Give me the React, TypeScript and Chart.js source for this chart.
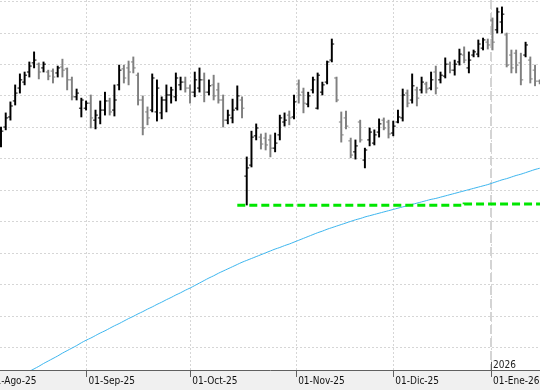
import { useEffect, useRef } from 'react';
import { Chart, registerables } from 'chart.js';

Chart.register(...registerables);

// ---- Data ----
// Daily OHLC bars, index 0 = 06-Ago-25
const highs = [
  27.01, 27.46, 27.81, 28.35, 28.70, 28.76, 29.08, 29.40, 29.05, 29.08,
  28.82, 28.86, 28.95, 29.17, 28.89, 28.60, 28.22, 27.93, 27.84, 28.03,
  27.55, 27.84, 28.12, 27.93, 28.35, 28.98, 28.98, 29.11, 29.24, 28.73,
  28.00, 27.65, 28.70, 28.51, 27.97, 28.35, 28.28, 28.73, 28.60, 28.60,
  28.35, 28.76, 28.89, 28.73, 28.51, 28.66, 28.41, 28.03, 27.55, 27.90,
  28.32, 27.97, 26.06, 26.88, 27.11, 26.79, 26.82, 26.76, 26.82, 27.39,
  27.46, 27.52, 28.03, 28.51, 28.25, 28.12, 28.60, 28.73, 28.44, 29.11,
  29.81, 28.60, 27.49, 27.52, 26.66, 26.60, 27.23, 26.34, 26.98, 26.92,
  27.27, 27.30, 27.23, 27.20, 27.55, 28.22, 28.19, 28.70, 28.28, 28.60,
  28.44, 28.76, 28.95, 28.76, 29.21, 29.08, 29.14, 29.49, 29.56, 29.40,
  29.46, 29.78, 29.84, 29.81, 30.48, 30.80, 30.83, 30.00, 29.46, 29.46,
  29.36, 29.71, 29.24, 28.98, 28.51,
];
const lows = [
  26.38, 26.92, 27.23, 27.71, 28.09, 28.35, 28.60, 28.89, 28.54, 28.76,
  28.51, 28.41, 28.60, 28.60, 28.19, 27.87, 27.87, 27.33, 27.55, 26.98,
  26.95, 27.11, 27.39, 27.39, 27.36, 28.19, 28.41, 28.35, 28.73, 27.71,
  26.76, 27.08, 27.49, 27.20, 27.27, 27.49, 27.77, 27.84, 28.19, 28.12,
  27.77, 27.97, 28.12, 27.81, 28.03, 27.87, 27.77, 27.01, 27.11, 27.14,
  27.55, 27.30, 24.53, 25.74, 26.60, 26.31, 26.28, 26.06, 26.22, 26.60,
  27.04, 27.08, 27.27, 27.77, 27.46, 27.65, 28.09, 27.58, 28.03, 28.38,
  29.08, 27.81, 26.53, 26.95, 26.03, 25.99, 26.53, 25.71, 26.41, 26.44,
  26.69, 26.92, 26.66, 26.73, 27.14, 27.20, 27.65, 27.77, 27.68, 28.09,
  28.09, 28.19, 28.06, 28.41, 28.57, 28.73, 28.66, 28.98, 29.05, 28.73,
  29.24, 29.24, 29.46, 29.49, 29.46, 30.00, 30.00, 28.92, 28.73, 28.73,
  28.35, 29.24, 28.41, 28.32, 28.38,
];
const opens = [
  26.60, 27.01, 27.33, 27.84, 28.25, 28.44, 28.76, 29.05, 29.01, 28.89,
  28.76, 28.79, 28.73, 28.92, 28.86, 28.51, 27.97, 27.61, 27.61, 27.77,
  27.23, 27.30, 27.55, 27.84, 27.55, 28.35, 28.86, 28.89, 29.08, 28.66,
  27.87, 27.49, 27.55, 27.49, 27.46, 27.87, 28.03, 27.97, 28.35, 28.44,
  28.25, 28.12, 28.25, 28.51, 28.12, 28.35, 28.19, 27.87, 27.23, 27.30,
  27.61, 27.87, 25.45, 25.80, 26.73, 26.69, 26.66, 26.60, 26.34, 26.76,
  27.17, 27.39, 27.33, 28.38, 28.12, 27.74, 28.19, 27.61, 28.12, 28.44,
  29.14, 28.57, 27.17, 27.30, 26.57, 26.22, 27.17, 25.96, 26.60, 26.50,
  26.85, 27.23, 27.17, 26.82, 27.17, 27.30, 28.09, 27.87, 28.19, 28.19,
  28.38, 28.25, 28.76, 28.51, 28.63, 29.01, 28.82, 29.08, 29.30, 28.89,
  29.30, 29.33, 29.52, 29.71, 30.41, 30.10, 30.35, 29.94, 29.30, 29.36,
  29.05, 29.30, 29.14, 28.82, 28.47,
];
const closes = [
  26.88, 27.30, 27.68, 28.09, 28.51, 28.66, 28.95, 29.14, 28.76, 29.01,
  28.63, 28.60, 28.89, 28.82, 28.51, 27.97, 28.09, 27.87, 27.77, 27.30,
  27.39, 27.55, 27.84, 27.49, 27.87, 28.82, 28.57, 28.76, 28.89, 27.87,
  26.98, 27.30, 28.57, 28.25, 27.87, 28.03, 28.19, 28.57, 28.44, 28.25,
  28.12, 28.51, 28.51, 28.12, 28.32, 28.00, 27.87, 27.23, 27.39, 27.55,
  28.00, 27.61, 25.71, 26.69, 26.98, 26.47, 26.44, 26.34, 26.50, 27.30,
  27.23, 27.30, 27.81, 28.03, 27.77, 28.00, 28.51, 28.66, 28.35, 29.08,
  29.65, 27.87, 26.76, 27.04, 26.12, 26.41, 26.60, 26.28, 26.85, 26.76,
  27.11, 26.98, 26.79, 27.04, 27.33, 28.03, 27.77, 28.32, 27.93, 28.44,
  28.22, 28.51, 28.25, 28.66, 29.01, 28.82, 29.01, 29.33, 29.14, 29.14,
  29.40, 29.65, 29.78, 29.62, 29.71, 30.67, 30.60, 28.98, 28.89, 28.98,
  28.51, 29.62, 28.54, 28.47, 28.44,
];
// Long moving average (light blue line)
const movingAvg = [
  18.74, 18.83, 18.91, 18.99, 19.07, 19.15, 19.24, 19.32, 19.40, 19.49,
  19.57, 19.65, 19.73, 19.82, 19.90, 19.98, 20.06, 20.15, 20.23, 20.30,
  20.38, 20.46, 20.53, 20.61, 20.69, 20.76, 20.84, 20.92, 20.99, 21.07,
  21.14, 21.22, 21.29, 21.37, 21.44, 21.52, 21.59, 21.67, 21.74, 21.82,
  21.89, 21.97, 22.05, 22.13, 22.21, 22.28, 22.36, 22.43, 22.50, 22.57,
  22.64, 22.71, 22.77, 22.83, 22.89, 22.95, 23.01, 23.07, 23.13, 23.18,
  23.24, 23.29, 23.35, 23.41, 23.47, 23.53, 23.59, 23.65, 23.70, 23.76,
  23.81, 23.86, 23.91, 23.96, 24.01, 24.06, 24.10, 24.15, 24.19, 24.23,
  24.27, 24.31, 24.35, 24.39, 24.43, 24.47, 24.51, 24.55, 24.59, 24.63,
  24.67, 24.71, 24.74, 24.78, 24.82, 24.86, 24.90, 24.94, 24.98, 25.02,
  25.06, 25.10, 25.14, 25.18, 25.23, 25.28, 25.33, 25.37, 25.42, 25.47,
  25.51, 25.56, 25.61, 25.66, 25.70,
];
// Green dashed support line segments: [fromIndex, toIndex, level]
const supportFrom = [50, 98];
const supportTo = [98, 115];
const supportLevel = [24.52, 24.56];

// Horizontal grid levels (prices; no labels shown)
const priceGrid = [20, 21, 22, 23, 24, 25, 26, 27, 28, 29, 30, 31];

// X axis: month ticks (bar-index positions) and labels
const monthTickPos = [-2.8, 18.1, 40.05, 62.45, 83, 103.7];
const monthLabels = ['01-Ago-25', '01-Sep-25', '01-Oct-25', '01-Nov-25', '01-Dic-25', '01-Ene-26'];
const yearMarkPos = 103.7;
const yearLabel = '2026';

const xMin = -0.21;
const xMax = 114.05;
const yMin = 19.284;
const yMax = 31.05;

const UP = '#000000';
const DOWN = '#808080';
const LABEL_FONT = "'Liberation Sans Narrow', 'DejaVu Sans Condensed', 'Liberation Sans', Arial, sans-serif";
const TICK_SHIFT = 0.25;

const colors = closes.map((c, i) => (c >= opens[i] ? UP : DOWN));

const framePlugin = {
  id: 'frame',
  beforeDraw(chart: any) {
    const { ctx, chartArea, width, height } = chart;
    ctx.save();
    ctx.fillStyle = '#ffffff';
    ctx.fillRect(0, 0, width, height);
    ctx.fillStyle = '#f0f0f0';
    ctx.fillRect(0, chartArea.bottom, width, height - chartArea.bottom);
    ctx.restore();
  },
  beforeDatasetsDraw(chart: any) {
    const { ctx, chartArea } = chart;
    const x = Math.round(chart.scales.x.getPixelForValue(yearMarkPos));
    ctx.save();
    ctx.strokeStyle = '#d4d4d4';
    ctx.lineWidth = 2;
    ctx.setLineDash([9, 4]);
    ctx.beginPath();
    ctx.moveTo(x, chartArea.top);
    ctx.lineTo(x, chartArea.bottom);
    ctx.stroke();
    ctx.restore();
  },
  afterDraw(chart: any) {
    const { ctx, chartArea } = chart;
    const x = Math.round(chart.scales.x.getPixelForValue(yearMarkPos)) + 0.5;
    ctx.save();
    ctx.strokeStyle = '#606060';
    ctx.lineWidth = 1;
    ctx.beginPath();
    ctx.moveTo(x, chartArea.bottom - 8);
    ctx.lineTo(x, chartArea.bottom);
    ctx.stroke();
    ctx.fillStyle = '#222222';
    ctx.font = `10px ${LABEL_FONT}`;
    ctx.textBaseline = 'alphabetic';
    ctx.textAlign = 'left';
    ctx.fillText(yearLabel, x + 1.5, chartArea.bottom - 2.5);
    ctx.restore();
  },
};

export default function App() {
  const ref = useRef<HTMLCanvasElement>(null);

  useEffect(() => {
    if (!ref.current) return;
    const supportData: { x: number; y: number }[] = [];
    supportFrom.forEach((f, k) => {
      supportData.push({ x: f, y: supportLevel[k] });
      supportData.push({ x: supportTo[k], y: supportLevel[k] });
    });

    const chart = new Chart(ref.current, {
      type: 'bar',
      data: {
        datasets: [
          {
            type: 'line',
            data: supportData,
            borderColor: '#00e600',
            borderWidth: 3,
            borderDash: [8, 4],
            pointRadius: 0,
            fill: false,
            order: 0,
          } as any,
          {
            type: 'bar',
            data: highs.map((h, i) => ({ x: i, y: [lows[i], h] })),
            backgroundColor: colors,
            barThickness: 1.3,
            borderWidth: 0,
            grouped: false,
            order: 1,
          } as any,
          {
            type: 'scatter',
            data: opens.map((o, i) => ({ x: i - TICK_SHIFT, y: o })),
            pointStyle: 'line',
            pointRadius: 1.2,
            pointBorderWidth: 1,
            pointBorderColor: colors,
            pointBackgroundColor: colors,
            order: 1,
          } as any,
          {
            type: 'scatter',
            data: closes.map((c, i) => ({ x: i + TICK_SHIFT, y: c })),
            pointStyle: 'line',
            pointRadius: 1.2,
            pointBorderWidth: 1,
            pointBorderColor: colors,
            pointBackgroundColor: colors,
            order: 1,
          } as any,
          {
            type: 'line',
            data: movingAvg.map((v, i) => ({ x: i, y: v })),
            borderColor: '#3db6ef',
            borderWidth: 1,
            pointRadius: 0,
            tension: 0.3,
            fill: false,
            order: 2,
          } as any,
        ],
      },
      options: {
        animation: false,
        responsive: false,
        devicePixelRatio: 1,
        events: [],
        layout: { padding: 0, autoPadding: false },
        plugins: {
          legend: { display: false },
          tooltip: { enabled: false },
        },
        scales: {
          x: {
            type: 'linear',
            min: xMin,
            max: xMax,
            bounds: 'data',
            offset: false,
            afterBuildTicks: (s: any) => {
              s.ticks = monthTickPos.map((v) => ({ value: v }));
              s.min = xMin;
              s.max = xMax;
            },
            afterFit: (s: any) => {
              s.height = 20;
              s.paddingLeft = 0;
              s.paddingRight = 0;
            },
            ticks: {
              callback: (_v: any, i: number) => monthLabels[i],
              align: 'start',
              labelOffset: 2,
              padding: -1,
              maxRotation: 0,
              minRotation: 0,
              autoSkip: false,
              color: '#111111',
              font: { family: LABEL_FONT, size: 10, lineHeight: 1 },
            },
            grid: {
              color: '#d6d6d6',
              lineWidth: 1,
              drawTicks: true,
              tickLength: 7,
              tickColor: '#606060',
              tickWidth: 1,
              offset: false,
            },
            border: { display: true, color: '#606060', width: 1, dash: [2, 2] },
          } as any,
          y: {
            type: 'linear',
            min: yMin,
            max: yMax,
            bounds: 'data',
            afterBuildTicks: (s: any) => {
              s.ticks = priceGrid.map((v) => ({ value: v }));
              s.min = yMin;
              s.max = yMax;
            },
            afterFit: (s: any) => {
              s.width = 0;
              s.paddingTop = 0;
              s.paddingBottom = 0;
            },
            ticks: { display: false, autoSkip: false },
            grid: { color: '#d6d6d6', lineWidth: 1, drawTicks: false },
            border: { display: false, dash: [2, 2] },
          } as any,
        },
      },
      plugins: [framePlugin],
    });
    return () => chart.destroy();
  }, []);

  return (
    <div style={{ position: 'absolute', left: 0, top: 0, width: 540, height: 390, background: '#ffffff' }}>
      <canvas ref={ref} width={540} height={390} style={{ display: 'block', width: 540, height: 390 }} />
    </div>
  );
}
